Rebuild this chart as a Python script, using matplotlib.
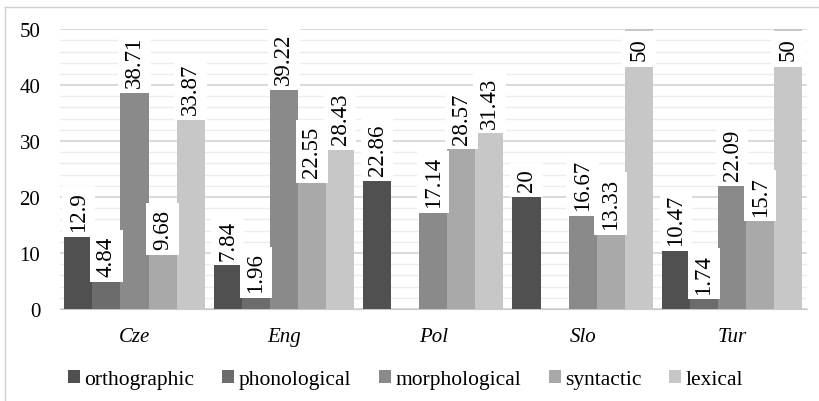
import numpy as np
import matplotlib.pyplot as plt
from matplotlib.lines import Line2D
from matplotlib.font_manager import FontProperties

FAM = 'Liberation Serif'
plt.rcParams['font.family'] = [FAM, 'DejaVu Serif']

langs = ['Cze', 'Eng', 'Pol', 'Slo', 'Tur']
series = ['orthographic', 'phonological', 'morphological', 'syntactic', 'lexical']
orthographic = [12.9, 7.84, 22.86, 20, 10.47]
phonological = [4.84, 1.96, 0, 0, 1.74]
morphological = [38.71, 39.22, 17.14, 16.67, 22.09]
syntactic = [9.68, 22.55, 28.57, 13.33, 15.7]
lexical = [33.87, 28.43, 31.43, 50, 50]
values = [orthographic, phonological, morphological, syntactic, lexical]
colors = ['#505050', '#6c6c6c', '#8a8a8a', '#a9a9a9', '#c7c7c7']

fig = plt.figure(figsize=(8.19, 4.02), dpi=100)
ax = fig.add_axes([0.073, 0.229, 0.912, 0.696])

x = np.arange(len(langs))
w = 0.188
for i, (name, vals) in enumerate(zip(series, values)):
    pos = x + (i - 2) * w
    ax.bar(pos, vals, w, color=colors[i], label=name, zorder=3)
    for p, v in zip(pos, vals):
        if v == 0:
            continue
        if v >= 45:
            # no room above the bar, label goes inside the top
            ax.annotate(f'{v:g}', (p, v), xytext=(0, -6), textcoords='offset points',
                        rotation=90, ha='center', va='top', fontsize=16.5, family=FAM,
                        zorder=5, bbox=dict(boxstyle='square,pad=0.3', fc='white', ec='none'))
        else:
            ax.annotate(f'{v:g}', (p, v), xytext=(0, 4), textcoords='offset points',
                        rotation=90, ha='center', va='bottom', fontsize=16.5, family=FAM,
                        zorder=5, bbox=dict(boxstyle='square,pad=0.25', fc='white', ec='none'))

ax.set_ylim(0, 50)
ax.set_xlim(-0.5, 4.5)
ax.set_yticks(range(0, 51, 10))
ax.set_yticks(range(0, 51, 2), minor=True)
ax.grid(axis='y', which='major', color='#d4d4d4', lw=1.2, zorder=0)
ax.grid(axis='y', which='minor', color='#ececec', lw=1, zorder=0)
ax.set_xticks(x)
ax.set_xticklabels(langs, fontstyle='italic', fontsize=15, family=FAM)
for t in ax.get_yticklabels():
    t.set_family(FAM)
    t.set_fontsize(15)
ax.tick_params(axis='y', length=0, pad=14, which='both')
ax.tick_params(axis='x', length=0, pad=13)
for s in ['top', 'right', 'left']:
    ax.spines[s].set_visible(False)
ax.spines['bottom'].set_color('#c8c8c8')

ax.legend(loc='upper center', bbox_to_anchor=(0.463, -0.15), ncol=5, frameon=False,
          prop=FontProperties(family=FAM, size=15.5), handlelength=0.55, handleheight=0.55,
          handletextpad=0.2, columnspacing=1.3)

fig.add_artist(Line2D([5 / 819, 1], [1 - 8 / 402, 1 - 8 / 402], color='#d0d0d0', lw=1))
fig.add_artist(Line2D([5 / 819, 5 / 819], [0, 1 - 8 / 402], color='#d0d0d0', lw=1))

fig.savefig('out.png', dpi=100)
